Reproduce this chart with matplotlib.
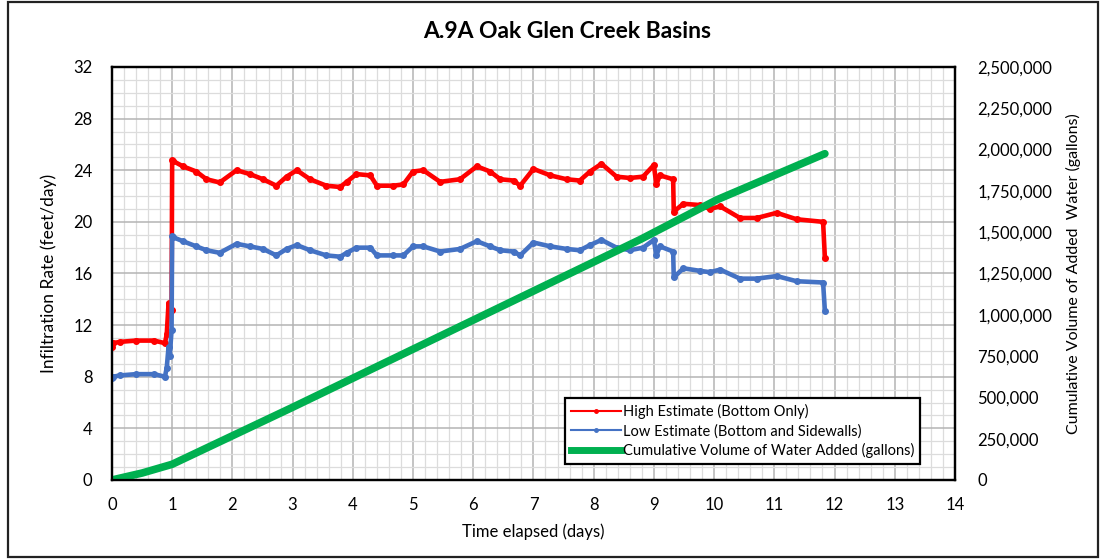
import matplotlib
matplotlib.use('Agg')
import matplotlib.pyplot as plt
import matplotlib.ticker as mticker
from matplotlib.lines import Line2D
from matplotlib.patches import Rectangle

plt.rcParams['font.family'] = ['Lato', 'DejaVu Sans']

## time (days) for the infiltration estimates
days = [0.0, 0.02, 0.13, 0.4, 0.7, 0.88, 0.91, 0.94, 0.96, 0.99, 1.0, 1.02, 1.18, 1.40, 1.57, 1.79,
        2.07, 2.29, 2.51, 2.73, 2.90, 3.07, 3.29, 3.56, 3.79, 3.90, 4.06, 4.29, 4.40, 4.67, 4.84,
        5.0, 5.17, 5.45, 5.78, 6.06, 6.28, 6.45, 6.67, 6.78, 7.0, 7.28, 7.55, 7.77, 7.94, 8.13,
        8.38, 8.6, 8.82, 9.0, 9.04, 9.1, 9.32, 9.33, 9.49, 9.77, 9.93, 10.1, 10.43, 10.71, 11.04,
        11.37, 11.81, 11.84]

## high estimate (bottom only), feet/day
high_est = [10.3, 10.6, 10.7, 10.8, 10.8, 10.6, 11.3, 13.7, 13.0, 13.2, 24.8, 24.7, 24.3, 23.9, 23.3, 23.05,
            24.0, 23.7, 23.3, 22.8, 23.5, 24.0, 23.3, 22.8, 22.7, 23.1, 23.7, 23.6, 22.8, 22.8, 22.9,
            23.9, 24.0, 23.1, 23.3, 24.3, 23.9, 23.3, 23.2, 22.8, 24.1, 23.6, 23.3, 23.2, 23.9, 24.5,
            23.5, 23.4, 23.5, 24.4, 22.9, 23.6, 23.3, 20.8, 21.4, 21.3, 21.0, 21.2, 20.3, 20.3, 20.7,
            20.2, 20.0, 17.2]

## low estimate (bottom and sidewalls), feet/day
low_est = [7.9, 8.0, 8.1, 8.2, 8.2, 8.0, 8.7, 10.3, 9.6, 11.6, 18.9, 18.8, 18.5, 18.1, 17.8, 17.6,
           18.3, 18.1, 17.9, 17.4, 17.9, 18.2, 17.8, 17.4, 17.3, 17.6, 18.0, 18.0, 17.4, 17.4, 17.4,
           18.1, 18.1, 17.7, 17.9, 18.5, 18.1, 17.8, 17.7, 17.4, 18.4, 18.1, 17.9, 17.8, 18.2, 18.6,
           18.0, 17.8, 18.0, 18.6, 17.4, 18.1, 17.7, 15.7, 16.4, 16.2, 16.1, 16.3, 15.6, 15.6, 15.8,
           15.4, 15.3, 13.1]

## cumulative volume of water added (gallons)
vol_days = [0.0, 0.5, 1.0, 3.0, 8.77, 10.04, 11.84]
vol_gal = [0, 42000, 95000, 440000, 1455000, 1695000, 1975000]

red = '#ff0000'
blue = '#4472c4'
green = '#00b050'

fig = plt.figure(figsize=(11.04, 5.6), dpi=100)
ax = fig.add_axes([0.1014, 0.1429, 0.7636, 0.7375])
ax2 = ax.twinx()

## grid
ax.set_xlim(0, 14)
ax.set_ylim(0, 32)
ax.xaxis.set_major_locator(mticker.MultipleLocator(1))
ax.xaxis.set_minor_locator(mticker.MultipleLocator(0.2))
ax.yaxis.set_major_locator(mticker.MultipleLocator(4))
ax.yaxis.set_minor_locator(mticker.MultipleLocator(1))
ax.grid(which='major', color='#b4b4b4', linewidth=1.1)
ax.grid(which='minor', color='#dcdcdc', linewidth=0.9)
ax.set_axisbelow(True)

## estimate lines
ax.plot(days, high_est, color=red, lw=3.3, marker='o', ms=4, zorder=3,
        solid_joinstyle='round')
ax.plot(days, low_est, color=blue, lw=3.3, marker='o', ms=4, zorder=3,
        solid_joinstyle='round')

## cumulative volume
ax2.plot(vol_days, vol_gal, color=green, lw=5.5, solid_capstyle='round')
ax2.set_ylim(0, 2500000)
ax2.yaxis.set_major_locator(mticker.MultipleLocator(250000))
ax2.yaxis.set_major_formatter(mticker.FuncFormatter(lambda v, p: '{:,.0f}'.format(v)))

## ticks & spines
ax.tick_params(which='both', length=0)
ax.tick_params(axis='y', pad=14, labelsize=12)
ax.tick_params(axis='x', pad=12, labelsize=12)
ax2.tick_params(which='both', length=0, pad=16, labelsize=12)
for a in (ax, ax2):
    for s in a.spines.values():
        s.set_linewidth(1.6)
        s.set_color('black')

## labels
ax.set_xlabel('Time elapsed (days)', fontsize=12, labelpad=8)
ax.set_ylabel('Infiltration Rate (feet/day)', fontsize=12.5, labelpad=12)
ax2.set_ylabel('Cumulative Volume of Added  Water (gallons)', fontsize=11.5, labelpad=10)
fig.text(0.514, 0.943, 'A.9A Oak Glen Creek Basins', ha='center', va='center',
         fontsize=16.5, fontweight='bold')

## legend
handles = [Line2D([], [], color=red, lw=1.5, marker='o', ms=2.5),
           Line2D([], [], color=blue, lw=1.5, marker='o', ms=2.5),
           Line2D([], [], color=green, lw=5)]
labels = ['High Estimate (Bottom Only)', 'Low Estimate (Bottom and Sidewalls)',
          'Cumulative Volume of Water Added (gallons)']
leg = ax2.legend(handles, labels, loc='lower left', bbox_to_anchor=(0.538, 0.038),
                 fontsize=10.5, handlelength=3.4, handletextpad=0.15, labelspacing=0.35,
                 borderpad=0.4, borderaxespad=0, fancybox=False, framealpha=1, edgecolor='black')
leg.get_frame().set_linewidth(1.6)

## outer border
fig.patches.append(Rectangle((0.007, 0.006), 0.988, 0.99, transform=fig.transFigure,
                             fill=False, edgecolor='#222222', linewidth=1.6))

fig.savefig('out.png', dpi=100)
